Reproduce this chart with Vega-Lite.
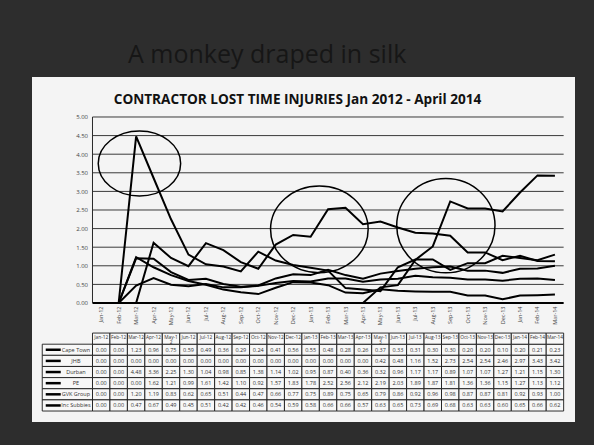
{
"$schema": "https://vega.github.io/schema/vega-lite/v6.json",
"width": 543,
"height": 345,
"autosize": {"type": "none"},
"padding": {"left": 32, "top": 77, "right": 19, "bottom": 23},
"background": "#2d2d2d",
"title": {"text": "A monkey draped in silk", "font": "Open Sans", "fontSize": 25, "fontWeight": "normal", "color": "#161616", "anchor": "start", "frame": "group", "dx": 96, "offset": 9},
"datasets": {
"levels": [{"level":0.5},{"level":1},{"level":1.5},{"level":2},{"level":2.5},{"level":3},{"level":3.5},{"level":4},{"level":4.5},{"level":5}],
"lti": [
{"series":"Cape Town","month":"Jan-12","value":0},{"series":"Cape Town","month":"Feb-12","value":0},{"series":"Cape Town","month":"Mar-12","value":1.23},{"series":"Cape Town","month":"Apr-12","value":0.96},{"series":"Cape Town","month":"May-12","value":0.75},{"series":"Cape Town","month":"Jun-12","value":0.59},{"series":"Cape Town","month":"Jul-12","value":0.49},{"series":"Cape Town","month":"Aug-12","value":0.36},{"series":"Cape Town","month":"Sep-12","value":0.29},{"series":"Cape Town","month":"Oct-12","value":0.24},{"series":"Cape Town","month":"Nov-12","value":0.41},{"series":"Cape Town","month":"Dec-12","value":0.56},{"series":"Cape Town","month":"Jan-13","value":0.55},{"series":"Cape Town","month":"Feb-13","value":0.48},{"series":"Cape Town","month":"Mar-13","value":0.28},{"series":"Cape Town","month":"Apr-13","value":0.26},{"series":"Cape Town","month":"May-13","value":0.37},{"series":"Cape Town","month":"Jun-13","value":0.33},{"series":"Cape Town","month":"Jul-13","value":0.31},{"series":"Cape Town","month":"Aug-13","value":0.30},{"series":"Cape Town","month":"Sep-13","value":0.30},{"series":"Cape Town","month":"Oct-13","value":0.20},{"series":"Cape Town","month":"Nov-13","value":0.20},{"series":"Cape Town","month":"Dec-13","value":0.10},{"series":"Cape Town","month":"Jan-14","value":0.20},{"series":"Cape Town","month":"Feb-14","value":0.21},{"series":"Cape Town","month":"Mar-14","value":0.23},
{"series":"JHB","month":"Jan-12","value":0},{"series":"JHB","month":"Feb-12","value":0},{"series":"JHB","month":"Mar-12","value":0},{"series":"JHB","month":"Apr-12","value":0},{"series":"JHB","month":"May-12","value":0},{"series":"JHB","month":"Jun-12","value":0},{"series":"JHB","month":"Jul-12","value":0},{"series":"JHB","month":"Aug-12","value":0},{"series":"JHB","month":"Sep-12","value":0},{"series":"JHB","month":"Oct-12","value":0},{"series":"JHB","month":"Nov-12","value":0},{"series":"JHB","month":"Dec-12","value":0},{"series":"JHB","month":"Jan-13","value":0},{"series":"JHB","month":"Feb-13","value":0},{"series":"JHB","month":"Mar-13","value":0},{"series":"JHB","month":"Apr-13","value":0},{"series":"JHB","month":"May-13","value":0.42},{"series":"JHB","month":"Jun-13","value":0.48},{"series":"JHB","month":"Jul-13","value":1.16},{"series":"JHB","month":"Aug-13","value":1.52},{"series":"JHB","month":"Sep-13","value":2.73},{"series":"JHB","month":"Oct-13","value":2.54},{"series":"JHB","month":"Nov-13","value":2.54},{"series":"JHB","month":"Dec-13","value":2.46},{"series":"JHB","month":"Jan-14","value":2.97},{"series":"JHB","month":"Feb-14","value":3.43},{"series":"JHB","month":"Mar-14","value":3.42},
{"series":"Durban","month":"Jan-12","value":0},{"series":"Durban","month":"Feb-12","value":0},{"series":"Durban","month":"Mar-12","value":4.48},{"series":"Durban","month":"Apr-12","value":3.36},{"series":"Durban","month":"May-12","value":2.25},{"series":"Durban","month":"Jun-12","value":1.30},{"series":"Durban","month":"Jul-12","value":1.04},{"series":"Durban","month":"Aug-12","value":0.98},{"series":"Durban","month":"Sep-12","value":0.85},{"series":"Durban","month":"Oct-12","value":1.38},{"series":"Durban","month":"Nov-12","value":1.14},{"series":"Durban","month":"Dec-12","value":1.02},{"series":"Durban","month":"Jan-13","value":0.95},{"series":"Durban","month":"Feb-13","value":0.87},{"series":"Durban","month":"Mar-13","value":0.40},{"series":"Durban","month":"Apr-13","value":0.36},{"series":"Durban","month":"May-13","value":0.32},{"series":"Durban","month":"Jun-13","value":0.96},{"series":"Durban","month":"Jul-13","value":1.17},{"series":"Durban","month":"Aug-13","value":1.17},{"series":"Durban","month":"Sep-13","value":0.89},{"series":"Durban","month":"Oct-13","value":1.07},{"series":"Durban","month":"Nov-13","value":1.07},{"series":"Durban","month":"Dec-13","value":1.27},{"series":"Durban","month":"Jan-14","value":1.21},{"series":"Durban","month":"Feb-14","value":1.15},{"series":"Durban","month":"Mar-14","value":1.30},
{"series":"PE","month":"Jan-12","value":0},{"series":"PE","month":"Feb-12","value":0},{"series":"PE","month":"Mar-12","value":0},{"series":"PE","month":"Apr-12","value":1.62},{"series":"PE","month":"May-12","value":1.21},{"series":"PE","month":"Jun-12","value":0.99},{"series":"PE","month":"Jul-12","value":1.61},{"series":"PE","month":"Aug-12","value":1.42},{"series":"PE","month":"Sep-12","value":1.10},{"series":"PE","month":"Oct-12","value":0.92},{"series":"PE","month":"Nov-12","value":1.57},{"series":"PE","month":"Dec-12","value":1.83},{"series":"PE","month":"Jan-13","value":1.78},{"series":"PE","month":"Feb-13","value":2.52},{"series":"PE","month":"Mar-13","value":2.56},{"series":"PE","month":"Apr-13","value":2.12},{"series":"PE","month":"May-13","value":2.19},{"series":"PE","month":"Jun-13","value":2.03},{"series":"PE","month":"Jul-13","value":1.89},{"series":"PE","month":"Aug-13","value":1.87},{"series":"PE","month":"Sep-13","value":1.81},{"series":"PE","month":"Oct-13","value":1.36},{"series":"PE","month":"Nov-13","value":1.36},{"series":"PE","month":"Dec-13","value":1.15},{"series":"PE","month":"Jan-14","value":1.27},{"series":"PE","month":"Feb-14","value":1.13},{"series":"PE","month":"Mar-14","value":1.12},
{"series":"GVK Group","month":"Jan-12","value":0},{"series":"GVK Group","month":"Feb-12","value":0},{"series":"GVK Group","month":"Mar-12","value":1.20},{"series":"GVK Group","month":"Apr-12","value":1.19},{"series":"GVK Group","month":"May-12","value":0.83},{"series":"GVK Group","month":"Jun-12","value":0.62},{"series":"GVK Group","month":"Jul-12","value":0.65},{"series":"GVK Group","month":"Aug-12","value":0.51},{"series":"GVK Group","month":"Sep-12","value":0.44},{"series":"GVK Group","month":"Oct-12","value":0.47},{"series":"GVK Group","month":"Nov-12","value":0.66},{"series":"GVK Group","month":"Dec-12","value":0.77},{"series":"GVK Group","month":"Jan-13","value":0.75},{"series":"GVK Group","month":"Feb-13","value":0.89},{"series":"GVK Group","month":"Mar-13","value":0.75},{"series":"GVK Group","month":"Apr-13","value":0.65},{"series":"GVK Group","month":"May-13","value":0.79},{"series":"GVK Group","month":"Jun-13","value":0.86},{"series":"GVK Group","month":"Jul-13","value":0.92},{"series":"GVK Group","month":"Aug-13","value":0.96},{"series":"GVK Group","month":"Sep-13","value":0.98},{"series":"GVK Group","month":"Oct-13","value":0.87},{"series":"GVK Group","month":"Nov-13","value":0.87},{"series":"GVK Group","month":"Dec-13","value":0.81},{"series":"GVK Group","month":"Jan-14","value":0.92},{"series":"GVK Group","month":"Feb-14","value":0.93},{"series":"GVK Group","month":"Mar-14","value":1.00},
{"series":"Inc Subbies","month":"Jan-12","value":0},{"series":"Inc Subbies","month":"Feb-12","value":0},{"series":"Inc Subbies","month":"Mar-12","value":0.47},{"series":"Inc Subbies","month":"Apr-12","value":0.67},{"series":"Inc Subbies","month":"May-12","value":0.49},{"series":"Inc Subbies","month":"Jun-12","value":0.45},{"series":"Inc Subbies","month":"Jul-12","value":0.51},{"series":"Inc Subbies","month":"Aug-12","value":0.42},{"series":"Inc Subbies","month":"Sep-12","value":0.42},{"series":"Inc Subbies","month":"Oct-12","value":0.46},{"series":"Inc Subbies","month":"Nov-12","value":0.54},{"series":"Inc Subbies","month":"Dec-12","value":0.59},{"series":"Inc Subbies","month":"Jan-13","value":0.58},{"series":"Inc Subbies","month":"Feb-13","value":0.66},{"series":"Inc Subbies","month":"Mar-13","value":0.66},{"series":"Inc Subbies","month":"Apr-13","value":0.57},{"series":"Inc Subbies","month":"May-13","value":0.63},{"series":"Inc Subbies","month":"Jun-13","value":0.65},{"series":"Inc Subbies","month":"Jul-13","value":0.73},{"series":"Inc Subbies","month":"Aug-13","value":0.69},{"series":"Inc Subbies","month":"Sep-13","value":0.68},{"series":"Inc Subbies","month":"Oct-13","value":0.63},{"series":"Inc Subbies","month":"Nov-13","value":0.63},{"series":"Inc Subbies","month":"Dec-13","value":0.60},{"series":"Inc Subbies","month":"Jan-14","value":0.65},{"series":"Inc Subbies","month":"Feb-14","value":0.66},{"series":"Inc Subbies","month":"Mar-14","value":0.62}
]
},
"layer": [
{
"layer": [
{"data": {"name": "levels"}, "mark": {"type": "rule", "color": "#3a3a3a", "strokeWidth": 1},
 "encoding": {
  "x": {"datum": "Jan-12", "type": "ordinal", "bandPosition": 0, "scale": {"type": "band", "domain": ["_a","_b","_c","Jan-12","Feb-12","Mar-12","Apr-12","May-12","Jun-12","Jul-12","Aug-12","Sep-12","Oct-12","Nov-12","Dec-12","Jan-13","Feb-13","Mar-13","Apr-13","May-13","Jun-13","Jul-13","Aug-13","Sep-13","Oct-13","Nov-13","Dec-13","Jan-14","Feb-14","Mar-14"], "paddingInner": 0, "paddingOuter": 0.5585, "align": 0.418},
   "axis": {"title": null, "orient": "bottom", "offset": -119, "values": ["Jan-12","Feb-12","Mar-12","Apr-12","May-12","Jun-12","Jul-12","Aug-12","Sep-12","Oct-12","Nov-12","Dec-12","Jan-13","Feb-13","Mar-13","Apr-13","May-13","Jun-13","Jul-13","Aug-13","Sep-13","Oct-13","Nov-13","Dec-13","Jan-14","Feb-14","Mar-14"], "labelAngle": -90, "labelFontSize": 5.5, "labelColor": "#444444", "labelPadding": 3, "ticks": false, "domain": false, "grid": false}},
  "x2": {"datum": "Mar-14", "bandPosition": 1},
  "y": {"field": "level", "type": "quantitative", "scale": {"domain": [-3.199, 6.075], "nice": false, "zero": false},
   "axis": {"title": null, "orient": "left", "offset": -60.5, "values": [0,0.5,1,1.5,2,2.5,3,3.5,4,4.5,5], "format": ".2f", "labelFontSize": 6, "labelColor": "#444444", "labelPadding": 5, "ticks": false, "domain": false, "grid": false}}}},
{"data": {"values": [{}]}, "mark": {"type": "rule", "color": "#000000", "strokeWidth": 2},
 "encoding": {
  "x": {"datum": "Jan-12", "type": "ordinal", "bandPosition": 0,
   "axis": {"title": null, "orient": "bottom", "offset": -119, "values": ["Jan-12","Feb-12","Mar-12","Apr-12","May-12","Jun-12","Jul-12","Aug-12","Sep-12","Oct-12","Nov-12","Dec-12","Jan-13","Feb-13","Mar-13","Apr-13","May-13","Jun-13","Jul-13","Aug-13","Sep-13","Oct-13","Nov-13","Dec-13","Jan-14","Feb-14","Mar-14"], "labelAngle": -90, "labelFontSize": 5.5, "labelColor": "#444444", "labelPadding": 3, "ticks": false, "domain": false, "grid": false}},
  "x2": {"datum": "Mar-14", "bandPosition": 1},
  "y": {"datum": 0, "type": "quantitative",
   "axis": {"title": null, "orient": "left", "offset": -60.5, "values": [0,0.5,1,1.5,2,2.5,3,3.5,4,4.5,5], "format": ".2f", "labelFontSize": 6, "labelColor": "#444444", "labelPadding": 5, "ticks": false, "domain": false, "grid": false}}}},
{"data": {"values": [{}]}, "mark": {"type": "rule", "color": "#2a2a2a", "strokeWidth": 1},
 "encoding": {
  "x": {"datum": "Jan-12", "type": "ordinal", "bandPosition": 0,
   "axis": {"title": null, "orient": "bottom", "offset": -119, "values": ["Jan-12","Feb-12","Mar-12","Apr-12","May-12","Jun-12","Jul-12","Aug-12","Sep-12","Oct-12","Nov-12","Dec-12","Jan-13","Feb-13","Mar-13","Apr-13","May-13","Jun-13","Jul-13","Aug-13","Sep-13","Oct-13","Nov-13","Dec-13","Jan-14","Feb-14","Mar-14"], "labelAngle": -90, "labelFontSize": 5.5, "labelColor": "#444444", "labelPadding": 3, "ticks": false, "domain": false, "grid": false}},
  "y": {"datum": 0, "type": "quantitative",
   "axis": {"title": null, "orient": "left", "offset": -60.5, "values": [0,0.5,1,1.5,2,2.5,3,3.5,4,4.5,5], "format": ".2f", "labelFontSize": 6, "labelColor": "#444444", "labelPadding": 5, "ticks": false, "domain": false, "grid": false}},
  "y2": {"datum": 5}}},
{"data": {"name": "lti"}, "mark": {"type": "line", "color": "#000000", "strokeWidth": 2},
 "encoding": {
  "x": {"field": "month", "type": "ordinal", "bandPosition": 0.5, "sort": ["Jan-12","Feb-12","Mar-12","Apr-12","May-12","Jun-12","Jul-12","Aug-12","Sep-12","Oct-12","Nov-12","Dec-12","Jan-13","Feb-13","Mar-13","Apr-13","May-13","Jun-13","Jul-13","Aug-13","Sep-13","Oct-13","Nov-13","Dec-13","Jan-14","Feb-14","Mar-14"],
   "axis": {"title": null, "orient": "bottom", "offset": -119, "values": ["Jan-12","Feb-12","Mar-12","Apr-12","May-12","Jun-12","Jul-12","Aug-12","Sep-12","Oct-12","Nov-12","Dec-12","Jan-13","Feb-13","Mar-13","Apr-13","May-13","Jun-13","Jul-13","Aug-13","Sep-13","Oct-13","Nov-13","Dec-13","Jan-14","Feb-14","Mar-14"], "labelAngle": -90, "labelFontSize": 5.5, "labelColor": "#444444", "labelPadding": 3, "ticks": false, "domain": false, "grid": false}},
  "y": {"field": "value", "type": "quantitative",
   "axis": {"title": null, "orient": "left", "offset": -60.5, "values": [0,0.5,1,1.5,2,2.5,3,3.5,4,4.5,5], "format": ".2f", "labelFontSize": 6, "labelColor": "#444444", "labelPadding": 5, "ticks": false, "domain": false, "grid": false}},
  "detail": {"field": "series", "type": "nominal"}}},
{"data": {"values": [{"month": "Mar-12", "value": 3.75}]},
 "mark": {"type": "point", "shape": "M1,0C1,0.436,0.552,0.789,0,0.789C-0.552,0.789,-1,0.436,-1,0C-1,-0.436,-0.552,-0.789,0,-0.789C0.552,-0.789,1,-0.436,1,0Z", "size": 6790, "filled": false, "stroke": "#000000", "strokeWidth": 1.5, "opacity": 1},
 "encoding": {
  "x": {"field": "month", "type": "ordinal", "bandPosition": 0.69,
   "axis": {"title": null, "orient": "bottom", "offset": -119, "values": ["Jan-12","Feb-12","Mar-12","Apr-12","May-12","Jun-12","Jul-12","Aug-12","Sep-12","Oct-12","Nov-12","Dec-12","Jan-13","Feb-13","Mar-13","Apr-13","May-13","Jun-13","Jul-13","Aug-13","Sep-13","Oct-13","Nov-13","Dec-13","Jan-14","Feb-14","Mar-14"], "labelAngle": -90, "labelFontSize": 5.5, "labelColor": "#444444", "labelPadding": 3, "ticks": false, "domain": false, "grid": false}},
  "y": {"field": "value", "type": "quantitative",
   "axis": {"title": null, "orient": "left", "offset": -60.5, "values": [0,0.5,1,1.5,2,2.5,3,3.5,4,4.5,5], "format": ".2f", "labelFontSize": 6, "labelColor": "#444444", "labelPadding": 5, "ticks": false, "domain": false, "grid": false}}}},
{"data": {"values": [{"month": "Feb-13", "value": 1.98}]},
 "mark": {"type": "point", "shape": "M1,0C1,0.490,0.552,0.888,0,0.888C-0.552,0.888,-1,0.490,-1,0C-1,-0.490,-0.552,-0.888,0,-0.888C0.552,-0.888,1,-0.490,1,0Z", "size": 9526, "filled": false, "stroke": "#000000", "strokeWidth": 1.5, "opacity": 1},
 "encoding": {
  "x": {"field": "month", "type": "ordinal", "bandPosition": 0,
   "axis": {"title": null, "orient": "bottom", "offset": -119, "values": ["Jan-12","Feb-12","Mar-12","Apr-12","May-12","Jun-12","Jul-12","Aug-12","Sep-12","Oct-12","Nov-12","Dec-12","Jan-13","Feb-13","Mar-13","Apr-13","May-13","Jun-13","Jul-13","Aug-13","Sep-13","Oct-13","Nov-13","Dec-13","Jan-14","Feb-14","Mar-14"], "labelAngle": -90, "labelFontSize": 5.5, "labelColor": "#444444", "labelPadding": 3, "ticks": false, "domain": false, "grid": false}},
  "y": {"field": "value", "type": "quantitative",
   "axis": {"title": null, "orient": "left", "offset": -60.5, "values": [0,0.5,1,1.5,2,2.5,3,3.5,4,4.5,5], "format": ".2f", "labelFontSize": 6, "labelColor": "#444444", "labelPadding": 5, "ticks": false, "domain": false, "grid": false}}}},
{"data": {"values": [{"month": "Sep-13", "value": 2.08}]},
 "mark": {"type": "point", "shape": "M1,0C1,0.530,0.552,0.96,0,0.96C-0.552,0.96,-1,0.530,-1,0C-1,-0.530,-0.552,-0.96,0,-0.96C0.552,-0.96,1,-0.530,1,0Z", "size": 9663, "filled": false, "stroke": "#000000", "strokeWidth": 1.5, "opacity": 1},
 "encoding": {
  "x": {"field": "month", "type": "ordinal", "bandPosition": 0.25,
   "axis": {"title": null, "orient": "bottom", "offset": -119, "values": ["Jan-12","Feb-12","Mar-12","Apr-12","May-12","Jun-12","Jul-12","Aug-12","Sep-12","Oct-12","Nov-12","Dec-12","Jan-13","Feb-13","Mar-13","Apr-13","May-13","Jun-13","Jul-13","Aug-13","Sep-13","Oct-13","Nov-13","Dec-13","Jan-14","Feb-14","Mar-14"], "labelAngle": -90, "labelFontSize": 5.5, "labelColor": "#444444", "labelPadding": 3, "ticks": false, "domain": false, "grid": false}},
  "y": {"field": "value", "type": "quantitative",
   "axis": {"title": null, "orient": "left", "offset": -60.5, "values": [0,0.5,1,1.5,2,2.5,3,3.5,4,4.5,5], "format": ".2f", "labelFontSize": 6, "labelColor": "#444444", "labelPadding": 5, "ticks": false, "domain": false, "grid": false}}}},
{"data": {"values": [{"caption": "CONTRACTOR LOST TIME INJURIES Jan 2012 - April 2014"}]},
 "mark": {"type": "text", "font": "Open Sans", "fontSize": 13.6, "fontWeight": "bold", "color": "#111111", "baseline": "middle", "align": "center", "dx": -6},
 "encoding": {
  "y": {"datum": 5.46, "type": "quantitative",
   "axis": {"title": null, "orient": "left", "offset": -60.5, "values": [0,0.5,1,1.5,2,2.5,3,3.5,4,4.5,5], "format": ".2f", "labelFontSize": 6, "labelColor": "#444444", "labelPadding": 5, "ticks": false, "domain": false, "grid": false}},
  "text": {"field": "caption", "type": "nominal"}}}
]
},
{
"data": {"name": "lti"},
"layer": [
{"mark": {"type": "rect", "fill": "#f7f7f7", "stroke": "#1a1a1a", "strokeWidth": 0.9},
 "encoding": {
  "x": {"field": "month", "type": "ordinal",
   "axis": {"title": null, "orient": "bottom", "offset": -119, "values": ["Jan-12","Feb-12","Mar-12","Apr-12","May-12","Jun-12","Jul-12","Aug-12","Sep-12","Oct-12","Nov-12","Dec-12","Jan-13","Feb-13","Mar-13","Apr-13","May-13","Jun-13","Jul-13","Aug-13","Sep-13","Oct-13","Nov-13","Dec-13","Jan-14","Feb-14","Mar-14"], "labelAngle": -90, "labelFontSize": 5.5, "labelColor": "#444444", "labelPadding": 3, "ticks": false, "domain": false, "grid": false}},
  "y": {"field": "series", "type": "nominal", "scale": {"type": "band", "domain": ["_1","_2","_3","_4","_5","_6","_7","_8","_9","_10","_11","_12","_13","_14","_15","_16","_17","_18","_19","_20","_21","_22","Month","Cape Town","JHB","Durban","PE","GVK Group","Inc Subbies"], "paddingInner": 0, "paddingOuter": 0.985, "align": 0.5}, "axis": null}}},
{"mark": {"type": "text", "fontSize": 5.5, "color": "#333333", "baseline": "middle", "align": "center"},
 "encoding": {
  "x": {"field": "month", "type": "ordinal", "bandPosition": 0.5,
   "axis": {"title": null, "orient": "bottom", "offset": -119, "values": ["Jan-12","Feb-12","Mar-12","Apr-12","May-12","Jun-12","Jul-12","Aug-12","Sep-12","Oct-12","Nov-12","Dec-12","Jan-13","Feb-13","Mar-13","Apr-13","May-13","Jun-13","Jul-13","Aug-13","Sep-13","Oct-13","Nov-13","Dec-13","Jan-14","Feb-14","Mar-14"], "labelAngle": -90, "labelFontSize": 5.5, "labelColor": "#444444", "labelPadding": 3, "ticks": false, "domain": false, "grid": false}},
  "y": {"field": "series", "type": "nominal", "bandPosition": 0.5, "axis": null},
  "text": {"field": "value", "type": "quantitative", "format": ".2f"}}},
{"transform": [{"filter": "datum.series == 'Cape Town'"}, {"calculate": "'Month'", "as": "row"}],
 "mark": {"type": "rect", "fill": "#f7f7f7", "stroke": "#1a1a1a", "strokeWidth": 0.9},
 "encoding": {
  "x": {"field": "month", "type": "ordinal",
   "axis": {"title": null, "orient": "bottom", "offset": -119, "values": ["Jan-12","Feb-12","Mar-12","Apr-12","May-12","Jun-12","Jul-12","Aug-12","Sep-12","Oct-12","Nov-12","Dec-12","Jan-13","Feb-13","Mar-13","Apr-13","May-13","Jun-13","Jul-13","Aug-13","Sep-13","Oct-13","Nov-13","Dec-13","Jan-14","Feb-14","Mar-14"], "labelAngle": -90, "labelFontSize": 5.5, "labelColor": "#444444", "labelPadding": 3, "ticks": false, "domain": false, "grid": false}},
  "y": {"field": "row", "type": "nominal", "axis": null}}},
{"transform": [{"filter": "datum.series == 'Cape Town'"}, {"calculate": "'Month'", "as": "row"}, {"calculate": "replace(datum.month, 'May-1', 'May-1|')", "as": "label"}],
 "mark": {"type": "text", "fontSize": 4.8, "color": "#333333", "baseline": "middle", "align": "center", "lineBreak": "|", "lineHeight": 5.0, "dy": -0.5},
 "encoding": {
  "x": {"field": "month", "type": "ordinal", "bandPosition": 0.5,
   "axis": {"title": null, "orient": "bottom", "offset": -119, "values": ["Jan-12","Feb-12","Mar-12","Apr-12","May-12","Jun-12","Jul-12","Aug-12","Sep-12","Oct-12","Nov-12","Dec-12","Jan-13","Feb-13","Mar-13","Apr-13","May-13","Jun-13","Jul-13","Aug-13","Sep-13","Oct-13","Nov-13","Dec-13","Jan-14","Feb-14","Mar-14"], "labelAngle": -90, "labelFontSize": 5.5, "labelColor": "#444444", "labelPadding": 3, "ticks": false, "domain": false, "grid": false}},
  "y": {"field": "row", "type": "nominal", "bandPosition": 0.5, "axis": null},
  "text": {"field": "label", "type": "nominal"}}},
{"transform": [{"filter": "datum.month == 'Jan-12'"}],
 "mark": {"type": "rect", "fill": "#f7f7f7", "stroke": "#1a1a1a", "strokeWidth": 0.9},
 "encoding": {
  "x": {"datum": "_a", "type": "ordinal", "bandPosition": 0.12,
   "axis": {"title": null, "orient": "bottom", "offset": -119, "values": ["Jan-12","Feb-12","Mar-12","Apr-12","May-12","Jun-12","Jul-12","Aug-12","Sep-12","Oct-12","Nov-12","Dec-12","Jan-13","Feb-13","Mar-13","Apr-13","May-13","Jun-13","Jul-13","Aug-13","Sep-13","Oct-13","Nov-13","Dec-13","Jan-14","Feb-14","Mar-14"], "labelAngle": -90, "labelFontSize": 5.5, "labelColor": "#444444", "labelPadding": 3, "ticks": false, "domain": false, "grid": false}},
  "x2": {"datum": "_c", "bandPosition": 1},
  "y": {"field": "series", "type": "nominal", "axis": null}}},
{"transform": [{"filter": "datum.month == 'Jan-12'"}],
 "mark": {"type": "point", "shape": "stroke", "size": 225, "filled": false, "stroke": "#000000", "strokeWidth": 2.5, "opacity": 1},
 "encoding": {
  "x": {"datum": "_a", "type": "ordinal", "bandPosition": 0.75,
   "axis": {"title": null, "orient": "bottom", "offset": -119, "values": ["Jan-12","Feb-12","Mar-12","Apr-12","May-12","Jun-12","Jul-12","Aug-12","Sep-12","Oct-12","Nov-12","Dec-12","Jan-13","Feb-13","Mar-13","Apr-13","May-13","Jun-13","Jul-13","Aug-13","Sep-13","Oct-13","Nov-13","Dec-13","Jan-14","Feb-14","Mar-14"], "labelAngle": -90, "labelFontSize": 5.5, "labelColor": "#444444", "labelPadding": 3, "ticks": false, "domain": false, "grid": false}},
  "y": {"field": "series", "type": "nominal", "bandPosition": 0.5, "axis": null}}},
{"transform": [{"filter": "datum.month == 'Jan-12'"}],
 "mark": {"type": "text", "fontSize": 5.5, "color": "#333333", "baseline": "middle", "align": "center"},
 "encoding": {
  "x": {"datum": "_c", "type": "ordinal", "bandPosition": 0.05,
   "axis": {"title": null, "orient": "bottom", "offset": -119, "values": ["Jan-12","Feb-12","Mar-12","Apr-12","May-12","Jun-12","Jul-12","Aug-12","Sep-12","Oct-12","Nov-12","Dec-12","Jan-13","Feb-13","Mar-13","Apr-13","May-13","Jun-13","Jul-13","Aug-13","Sep-13","Oct-13","Nov-13","Dec-13","Jan-14","Feb-14","Mar-14"], "labelAngle": -90, "labelFontSize": 5.5, "labelColor": "#444444", "labelPadding": 3, "ticks": false, "domain": false, "grid": false}},
  "y": {"field": "series", "type": "nominal", "bandPosition": 0.5, "axis": null},
  "text": {"field": "series", "type": "nominal"}}}
]
}
],
"resolve": {"scale": {"y": "independent"}},
"config": {"view": {"fill": "#f4f4f4", "stroke": null}, "font": "Open Sans", "axis": {"labelFont": "Open Sans"}}
}
